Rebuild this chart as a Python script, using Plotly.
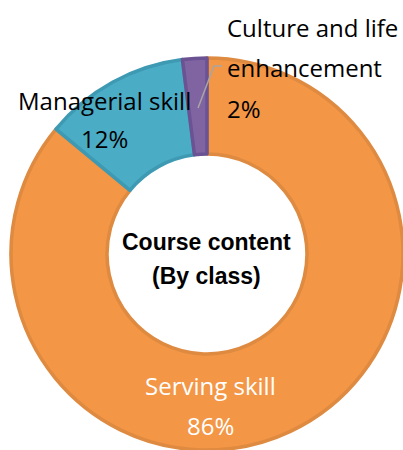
import plotly.graph_objects as go

# Data:
categories = ["Serving skill", "Managerial skill", "Culture and life enhancement"]
shares = [86, 12, 2]
label_lines = [["Serving skill", "86%"],
               ["Managerial skill", "12%"],
               ["Culture and life", "enhancement", "2%"]]
center_title = ["Course content", "(By class)"]

# Styles:
fill_colors = ["#F39645", "#4BACC6", "#8064A2"]
edge_colors = ["#DE8A40", "#3E9AB3", "#6B5292"]
W, H = 403, 450


def px(x, y):
    return x / W, 1 - y / H


fig = go.Figure(
    go.Pie(
        labels=categories,
        values=shares,
        hole=0.51,
        sort=False,
        direction="clockwise",
        rotation=0,
        textinfo="none",
        hoverinfo="label+percent",
        marker=dict(colors=fill_colors, line=dict(color=edge_colors, width=3.5)),
        domain=dict(x=[11 / W, 1], y=[0, 1 - 58 / H]),
    )
)

label_font = "Open Sans"
annotations = []

# Serving skill (inside, white)
for txt, (x, y) in zip(label_lines[0], [(210, 385), (210, 425)]):
    ax, ay = px(x, y)
    annotations.append(dict(x=ax, y=ay, text=txt, showarrow=False, xanchor="center", yanchor="middle",
                            font=dict(family=label_font, size=24, color="white")))

# Managerial skill
for txt, (x, y) in zip(label_lines[1], [(104, 100), (104, 138)]):
    ax, ay = px(x, y)
    annotations.append(dict(x=ax, y=ay, text=txt, showarrow=False, xanchor="center", yanchor="middle",
                            font=dict(family=label_font, size=24, color="black")))

# Culture and life enhancement
for txt, (x, y) in zip(label_lines[2], [(225, 27), (225, 68), (225, 108)]):
    ax, ay = px(x, y)
    annotations.append(dict(x=ax, y=ay, text=txt, showarrow=False, xanchor="left", yanchor="middle",
                            font=dict(family=label_font, size=24, color="black")))

# Center title
for txt, (x, y) in zip(center_title, [(206, 242), (206, 276)]):
    ax, ay = px(x, y)
    annotations.append(dict(x=ax, y=ay, text="<b>" + txt + "</b>", showarrow=False,
                            xanchor="center", yanchor="middle",
                            font=dict(family="Liberation Sans", size=23, color="black")))

# Leader line for the small slice
x0, y0 = px(198, 108)
x1, y1 = px(214, 66)
x2, y2 = px(222, 66)
shapes = [
    dict(type="path", xref="paper", yref="paper",
         path=f"M {x0} {y0} L {x1} {y1} L {x2} {y2}",
         line=dict(color="#A6A6A6", width=1.5)),
]

fig.update_layout(
    width=W,
    height=H,
    margin=dict(l=0, r=0, t=0, b=0),
    showlegend=False,
    paper_bgcolor="white",
    plot_bgcolor="white",
    annotations=annotations,
    shapes=shapes,
)

fig.write_html("out.html", config={"displayModeBar": False},
               post_script="document.body.style.margin='0';")
